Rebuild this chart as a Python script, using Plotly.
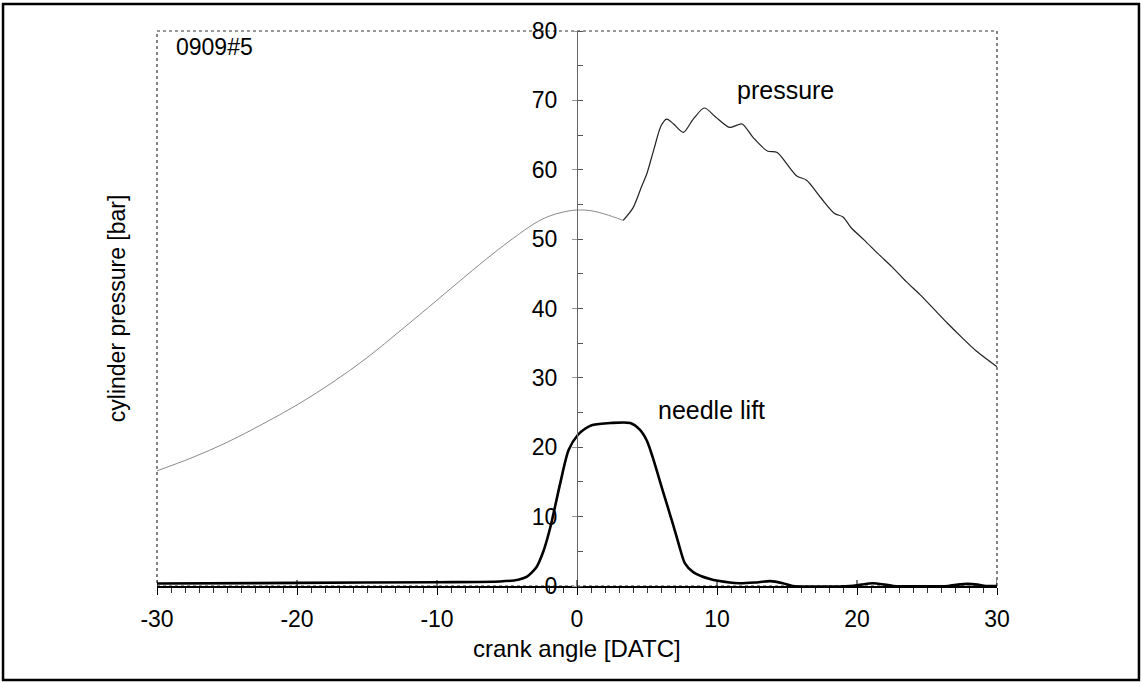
import plotly.graph_objects as go

# ---- data ----
crank_p = [-30, -27.5, -25, -22.5, -20, -17.5, -15, -12.5, -10, -8, -6, -4.5, -3, -2, -1, 0, 1, 2, 3.3]
press_p = [16.6, 18.5, 20.7, 23.3, 26.1, 29.3, 32.9, 37.0, 41.2, 44.6, 47.9, 50.2, 52.3, 53.3, 53.9, 54.2, 54.1, 53.6, 52.7]

crank_c = [3.3, 4.0, 4.6, 5.0, 5.5, 6.0, 6.4, 6.9, 7.6, 8.3, 9.1, 9.9, 10.9, 11.4, 11.8, 12.6, 13.6, 14.3,
           15.0, 15.7, 16.4, 17.4, 18.4, 19.0, 19.6, 20.5, 21.5, 22.5, 23.5, 24.5, 25.5, 26.5, 27.5, 28.5, 30.0]
press_c = [52.7, 54.5, 57.5, 59.5, 63.0, 66.3, 67.3, 66.6, 65.4, 67.3, 68.9, 67.6, 66.1, 66.4, 66.6, 64.6, 62.7, 62.5,
           60.8, 59.1, 58.5, 56.0, 53.7, 53.2, 51.6, 49.9, 47.9, 46.0, 43.9, 42.0, 39.9, 37.8, 35.8, 33.9, 31.6]

crank_n = [-30, -20, -10, -5.5, -4.2, -3.6, -2.9, -2.4, -1.9, -1.2, -0.6, 0.07, 0.6, 1.1, 2.4, 3.8, 4.5, 5.0, 5.4, 6.1,
           6.9, 7.3, 7.7, 8.3, 9.5, 10.9, 11.6, 12.7, 13.8, 14.7, 15.4, 19.5, 20.3, 21.1, 22.0, 22.6, 26.5, 27.2, 27.9,
           28.6, 29.2, 30]
lift_n = [0.35, 0.45, 0.55, 0.65, 0.9, 1.3, 2.7, 5.0, 8.5, 14.8, 19.6, 21.8, 22.7, 23.2, 23.5, 23.5, 22.5, 20.9, 18.6, 13.9,
          8.6, 5.8, 3.3, 2.0, 1.0, 0.5, 0.4, 0.5, 0.7, 0.4, 0.0, 0.0, 0.2, 0.4, 0.2, 0.0, 0.0, 0.2, 0.3, 0.2, 0.0, 0.0]

x_ticks = [-30, -20, -10, 0, 10, 20, 30]
y_ticks = [0, 10, 20, 30, 40, 50, 60, 70, 80]

FONT = "Liberation Sans, Arial, sans-serif"

fig = go.Figure()
fig.add_trace(go.Scatter(x=crank_p, y=press_p, mode="lines", line=dict(color="#8a8a8a", width=1, shape="spline", smoothing=1.0),
                         showlegend=False, hoverinfo="skip"))
fig.add_trace(go.Scatter(x=crank_c, y=press_c, mode="lines", line=dict(color="#222222", width=1.2, shape="spline", smoothing=0.8),
                         showlegend=False, hoverinfo="skip"))
fig.add_trace(go.Scatter(x=crank_n, y=lift_n, mode="lines", line=dict(color="black", width=2.6, shape="spline", smoothing=0.7),
                         showlegend=False, hoverinfo="skip"))

fig.update_layout(
    width=1142, height=683,
    margin=dict(l=157, r=145, t=31, b=97),
    paper_bgcolor="white", plot_bgcolor="white",
    font=dict(family=FONT, size=23, color="black"),
    xaxis=dict(range=[-30, 30], tickvals=x_ticks, ticktext=[str(v) for v in x_ticks],
               showgrid=False, zeroline=False, showline=True, linecolor="black", linewidth=2,
               ticks="outside", ticklen=7, tickwidth=1, tickcolor="black", ticklabelstandoff=4,
               minor=dict(dtick=1, ticks="outside", ticklen=5, tickcolor="#333", tickwidth=1),
               tickfont=dict(size=23), fixedrange=True),
    yaxis=dict(range=[0, 80], tickvals=y_ticks, ticktext=[str(v) for v in y_ticks],
               anchor="free", position=0.5,
               showgrid=False, zeroline=False, showline=True, linecolor="#666", linewidth=1,
               ticks="outside", ticklen=5, tickcolor="#999", ticklabelstandoff=10,
               minor=dict(dtick=5, ticks="inside", ticklen=5, tickcolor="#555"),
               tickfont=dict(size=23), fixedrange=True),
)

shapes = []
# plot-area frame (dotted)
shapes.append(dict(type="rect", xref="paper", yref="paper", x0=0, x1=1, y0=0, y1=1,
                   line=dict(color="#333", width=1.2, dash="dot"), layer="below"))
# outer border
shapes.append(dict(type="rect", xref="paper", yref="paper", x0=-0.1833, x1=1.169, y0=-0.1694, y1=1.0486,
                   line=dict(color="black", width=2.5)))
# major x ticks crossing above the axis
for v in x_ticks:
    shapes.append(dict(type="line", xref="x", yref="paper", ysizemode="pixel", yanchor=0,
                       x0=v, x1=v, y0=0, y1=6, line=dict(color="black", width=1)))
fig.update_layout(shapes=shapes)

fig.add_annotation(text="cylinder pressure [bar]", xref="paper", yref="paper", x=-0.048, y=0.5,
                   textangle=-90, showarrow=False, font=dict(size=23), xanchor="center", yanchor="middle")
fig.add_annotation(text="crank angle [DATC]", xref="paper", yref="paper", x=0.5, y=-0.112,
                   showarrow=False, font=dict(size=24), xanchor="center", yanchor="middle")
fig.add_annotation(text="0909#5", xref="paper", yref="paper", x=0.02, y=0.972,
                   showarrow=False, font=dict(size=23), xanchor="left", yanchor="middle")
fig.add_annotation(text="pressure", xref="x", yref="y", x=14.9, y=71.5,
                   showarrow=False, font=dict(size=25), xanchor="center", yanchor="middle")
fig.add_annotation(text="needle lift", xref="x", yref="y", x=9.6, y=25.3,
                   showarrow=False, font=dict(size=25), xanchor="center", yanchor="middle")

fig.write_html("out.html")
